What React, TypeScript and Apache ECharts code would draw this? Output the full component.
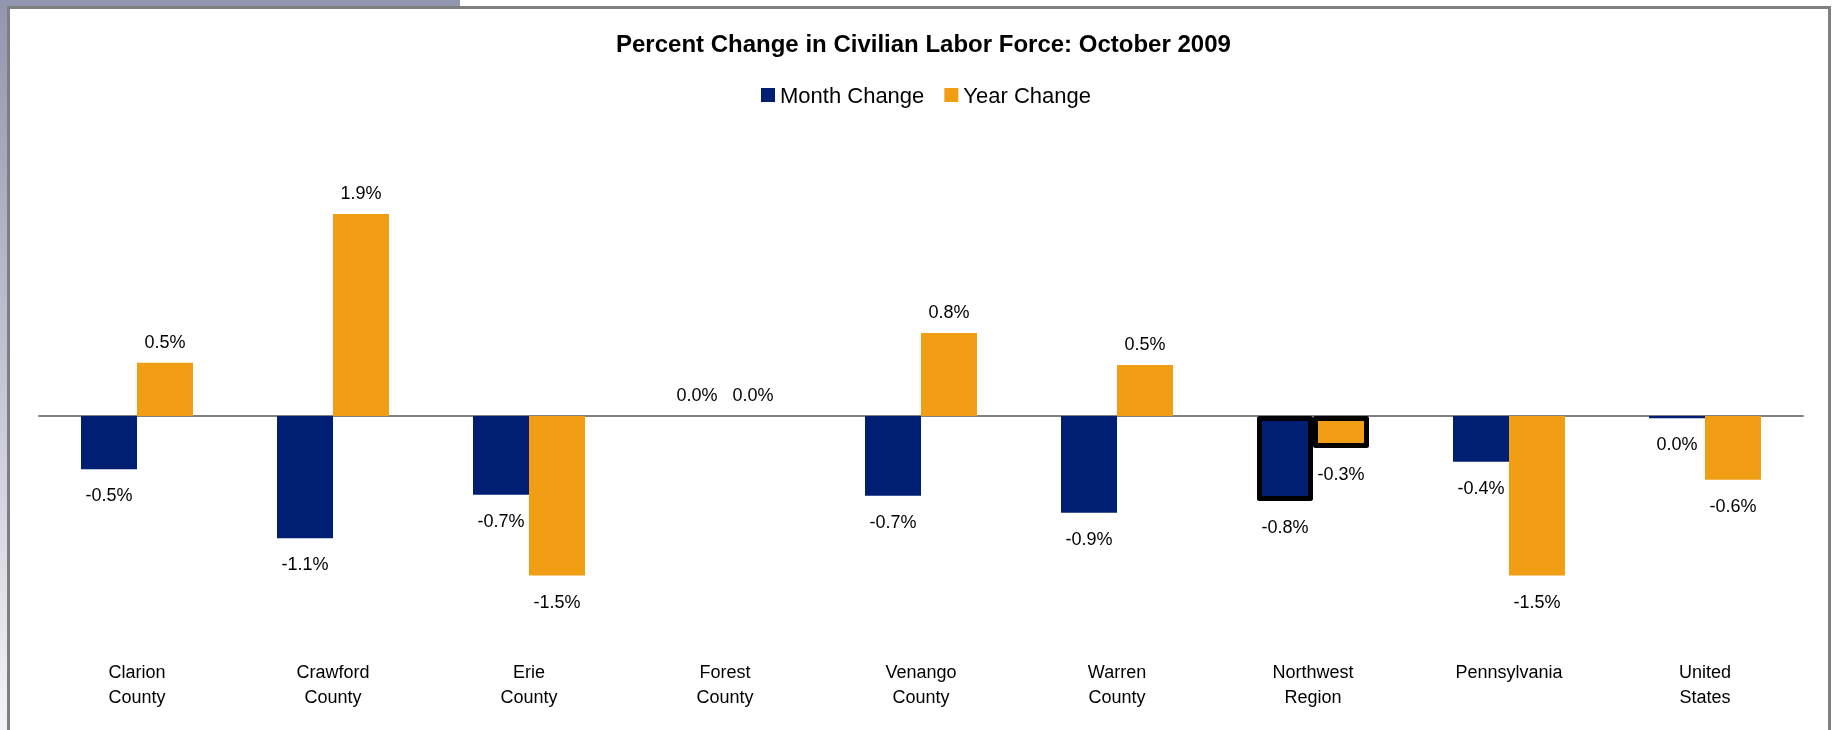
import React, { useEffect, useRef } from "react";
import * as echarts from "echarts";

const categories = [
  "Clarion\nCounty",
  "Crawford\nCounty",
  "Erie\nCounty",
  "Forest\nCounty",
  "Venango\nCounty",
  "Warren\nCounty",
  "Northwest\nRegion",
  "Pennsylvania",
  "United\nStates",
];
const monthChange = [-0.5, -1.149, -0.74, 0.0, -0.749, -0.91, -0.8, -0.43, -0.02];
const yearChange = [0.5, 1.9, -1.5, 0.0, 0.78, 0.48, -0.3, -1.5, -0.6];
const highlightIndex = 6;
const seriesNames = ["Month Change", "Year Change"];
const titleText = "Percent Change in Civilian Labor Force: October 2009";

const FONT = "'Liberation Sans', Arial, sans-serif";
const NAVY = "#001F73";
const ORANGE = "#F29E14";

function buildData(values: number[]) {
  return values.map((v, i) => {
    const item: any = {
      value: v,
      label: {
        position: v < 0 ? "bottom" : "top",
        distance: v < 0 ? 17 : 12,
      },
    };
    if (i === highlightIndex) {
      item.itemStyle = { borderColor: "#000", borderWidth: 5, borderJoin: "round" };
    }
    return item;
  });
}

const fmt = (p: any) => {
  const v = Number(p.value);
  const s = (Math.abs(v) < 0.05 ? 0 : v).toFixed(1);
  return s + "%";
};

export default function App() {
  const ref = useRef<HTMLDivElement>(null);
  useEffect(() => {
    if (!ref.current) return;
    const chart = echarts.init(ref.current, undefined, { renderer: "svg" });
    const labelStyle = {
      show: true,
      formatter: fmt,
      fontFamily: FONT,
      fontSize: 18,
      color: "#000",
    };
    chart.setOption({
      animation: false,
      graphic: [
        {
          type: "rect",
          z: -10,
          shape: { x: 0, y: 0, width: 460, height: 730 },
          style: {
            fill: new echarts.graphic.LinearGradient(0, 0, 0, 1, [
              { offset: 0, color: "#9296AF" },
              { offset: 1, color: "#F3F3F7" },
            ]),
          },
          silent: true,
        },
        {
          type: "rect",
          z: -9,
          shape: { x: 8.5, y: 7.5, width: 1821, height: 740 },
          style: { fill: "#ffffff", stroke: "#808080", lineWidth: 3 },
          silent: true,
        },
      ],
      title: {
        text: titleText,
        left: 611,
        top: 26,
        textStyle: {
          fontFamily: FONT,
          fontSize: 24,
          fontWeight: "bold",
          color: "#000",
        },
      },
      legend: {
        data: seriesNames,
        left: 756,
        top: 79,
        itemWidth: 14,
        itemHeight: 14,
        itemGap: 20,
        icon: "rect",
        textStyle: { fontFamily: FONT, fontSize: 22, color: "#000", padding: [0, 0, 0, 0] },
      },
      grid: { left: 39, right: 30, top: 182, bottom: 80, containLabel: false },
      xAxis: [
        {
          type: "category",
          data: categories,
          axisLine: { show: false, onZero: false },
          axisTick: { show: false },
          axisLabel: {
            interval: 0,
            margin: 9,
            fontFamily: FONT,
            fontSize: 18,
            lineHeight: 25,
            color: "#000",
          },
        },
        {
          type: "category",
          data: categories,
          position: "bottom",
          axisLine: { show: true, onZero: true, lineStyle: { color: "#808080", width: 2 } },
          axisTick: { show: false },
          axisLabel: { show: false },
        },
      ],
      yAxis: {
        type: "value",
        min: -2.2,
        max: 2.2,
        show: false,
        splitLine: { show: false },
      },
      series: [
        {
          name: seriesNames[0],
          type: "bar",
          data: buildData(monthChange),
          barWidth: 56,
          barGap: "0%",
          itemStyle: { color: NAVY },
          label: labelStyle,
        },
        {
          name: seriesNames[1],
          type: "bar",
          data: buildData(yearChange),
          barWidth: 56,
          barGap: "0%",
          itemStyle: { color: ORANGE },
          label: labelStyle,
        },
      ],
    });
    return () => chart.dispose();
  }, []);
  return (
    <div
      ref={ref}
      style={{ position: "fixed", left: 0, top: 0, width: 1833, height: 730 }}
    />
  );
}
